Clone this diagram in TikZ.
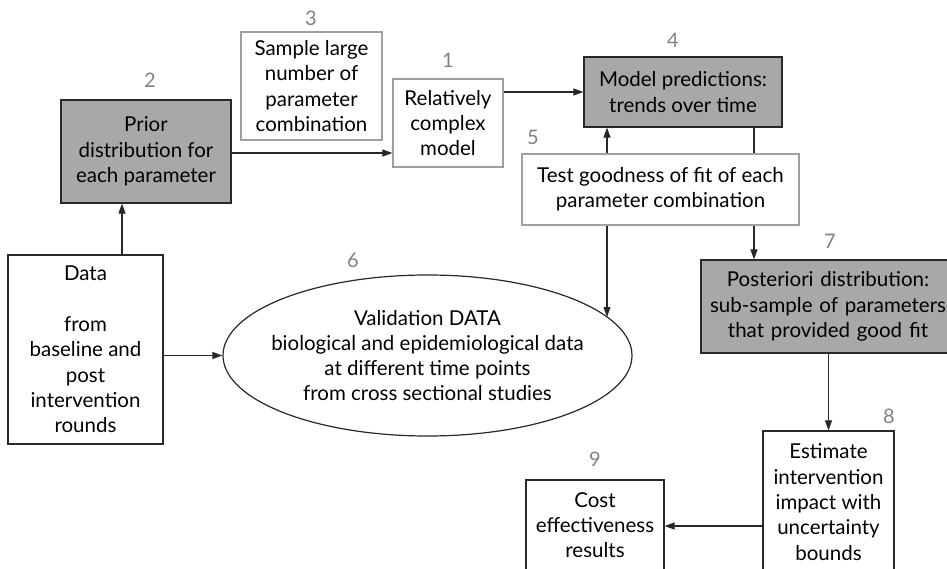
\documentclass[tikz,border=0pt]{standalone}
\usepackage{fontspec}
\setmainfont{Lato}
\usetikzlibrary{arrows.meta,shapes.geometric}
\definecolor{boxgray}{RGB}{168,168,168}
\definecolor{lightedge}{RGB}{160,160,160}
\definecolor{darkedge}{RGB}{40,40,40}
\definecolor{numgray}{RGB}{130,130,130}
\tikzset{
  every node/.style={font=\fontsize{20.5}{25.3}\selectfont, text=black},
  graybox/.style={draw=darkedge, line width=1.2pt, fill=boxgray, align=center, inner sep=0pt},
  lightbox/.style={draw=lightedge, line width=1.2pt, fill=white, align=center, inner sep=0pt},
  darkbox/.style={draw=darkedge, line width=1.2pt, fill=white, align=center, inner sep=0pt},
  numlbl/.style={font=\fontsize{20}{22}\selectfont, text=numgray},
  arr/.style={draw=darkedge, line width=1.1pt, -{Triangle[length=10pt,width=7pt]}},
  ln/.style={draw=darkedge, line width=1.1pt},
}
\begin{document}
\begin{tikzpicture}[x=1pt,y=-1pt]
\useasboundingbox (0,0) rectangle (947,569);
\fill[white] (0,0) rectangle (947,569);

% boxes
\node[graybox, minimum width=170pt, minimum height=103pt] (prior) at (146,151.5)
  {Prior\\distribution for\\each parameter};
\node[lightbox, minimum width=141pt, minimum height=108pt] (sample) at (311.5,86)
  {Sample large\\number of\\parameter\\combination};
\node[lightbox, minimum width=110pt, minimum height=88pt] (rel) at (448,123)
  {Relatively\\complex\\model};
\node[graybox, minimum width=198pt, minimum height=70pt] (model) at (683,92)
  {Model predictions:\\trends over time};
\node[lightbox, minimum width=277pt, minimum height=71pt] (test) at (660.5,189.5)
  {Test goodness of fit of each\\parameter combination};
\node[graybox, minimum width=254pt, minimum height=93pt, text width=250pt] (post) at (828,306.5)
  {\centering Posteriori distribution:\\sub-sample of parameters\\that provided good fit};
\node[darkbox, minimum width=155pt, minimum height=189pt] (data) at (85.5,349.5)
  {Data\\[25.3pt]from\\baseline and\\post\\intervention\\rounds};
\node[draw=darkedge, line width=1.2pt, ellipse, minimum width=409pt, minimum height=161pt, inner sep=0pt] (valid) at (427.5,355.5) {};
\node[align=center] (validtxt) at (valid.center)
  {Validation DATA\\biological and epidemiological data\\at different time points\\from cross sectional studies};
\node[darkbox, minimum width=131pt, minimum height=142pt] (est) at (828.5,502)
  {Estimate\\intervention\\impact with\\uncertainty\\bounds};
\node[darkbox, minimum width=138pt, minimum height=90pt] (cost) at (595,525)
  {Cost\\effectiveness\\results};

% number labels
\node[numlbl] (n1) at (448,60) {1};
\node[numlbl] (n2) at (150,80) {2};
\node[numlbl] (n3) at (311,18) {3};
\node[numlbl] (n4) at (673,40) {4};
\node[numlbl] (n5) at (533,137) {5};
\node[numlbl] (n6) at (353,260) {6};
\node[numlbl] (n7) at (830,241) {7};
\node[numlbl] (n8) at (889,416) {8};
\node[numlbl] (n9) at (595,459) {9};

% connectors
\draw[arr] ([xshift=36.5pt]data.north) -- ([xshift=36.5pt]data.north |- prior.south);
\draw[arr] ([yshift=-1.5pt]prior.east) -- ([yshift=-1.5pt]prior.east -| rel.west);
\draw[arr] (model.west -| rel.east) -- (model.west);
\draw[arr] ([xshift=-53.5pt]test.north) -- ([xshift=-53.5pt]test.north |- model.south);
\draw[ln] ([xshift=71pt]model.south) -- ([xshift=71pt]model.south |- test.north);
\draw[arr] ([xshift=93.5pt]test.south) -- ([xshift=93.5pt]test.south |- post.north);
\coordinate (vhit) at (607,317);
\draw[arr] ([xshift=-53.5pt]test.south) -- (vhit);
\draw[arr] (valid.west -| data.east) -- (valid.west);
\draw[arr] (post.south -| est.north) -- (est.north);
\draw[arr] ([yshift=-24pt]est.west) -- ([yshift=-24pt]est.west -| cost.east);
\end{tikzpicture}
\end{document}
